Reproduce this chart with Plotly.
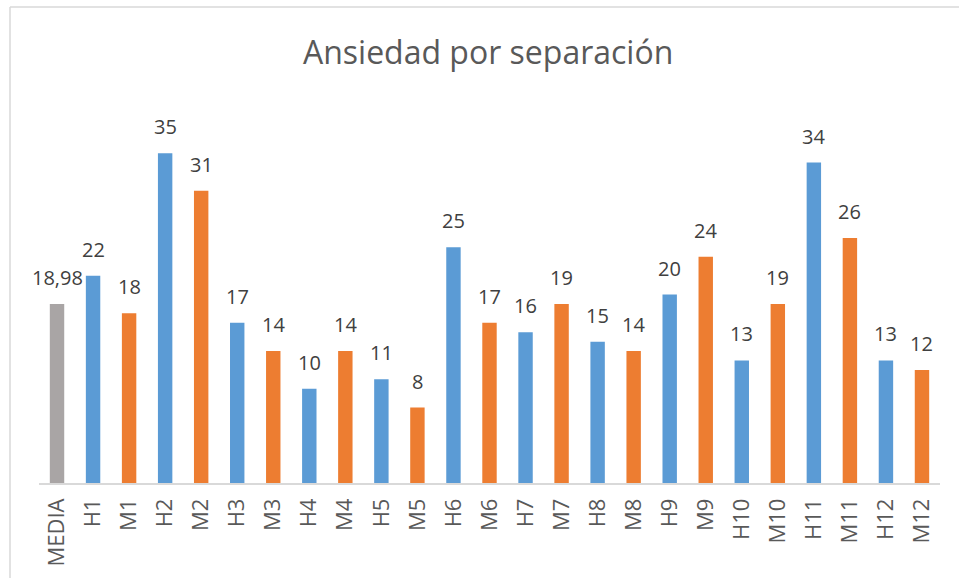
import plotly.graph_objects as go

categories = ["MEDIA", "H1", "M1", "H2", "M2", "H3", "M3", "H4", "M4", "H5", "M5",
              "H6", "M6", "H7", "M7", "H8", "M8", "H9", "M9", "H10", "M10",
              "H11", "M11", "H12", "M12"]
values = [18.98, 22, 18, 35, 31, 17, 14, 10, 14, 11, 8,
          25, 17, 16, 19, 15, 14, 20, 24, 13, 19, 34, 26, 13, 12]
labels = ["18,98"] + [str(v) for v in values[1:]]

GRAY = "#A9A5A5"
BLUE = "#5B9BD5"
ORANGE = "#ED7D31"
colors = [GRAY] + [BLUE if c.startswith("H") else ORANGE for c in categories[1:]]

W, H = 959, 578
ml, mr, mt, mb = 39, 19, 106, 95

fig = go.Figure(go.Bar(
    x=categories, y=values, marker_color=colors, marker_line_width=0,
    hoverinfo="x+y",
))

for c, v, t in zip(categories, values, labels):
    fig.add_annotation(x=c, y=v, text=t, showarrow=False, yanchor="bottom",
                       yshift=11, font=dict(family="Open Sans", size=20, color="#404040"))

pw = W - ml - mr
ph = H - mt - mb
fig.update_layout(
    width=W, height=H,
    margin=dict(l=ml, r=mr, t=mt, b=mb, autoexpand=False),
    paper_bgcolor="white", plot_bgcolor="white",
    bargap=0.6,
    showlegend=False,
    title=dict(text="Ansiedad por separación", x=0.509, xref="container",
               y=1 - 53 / H, yref="container", xanchor="center", yanchor="middle",
               font=dict(family="Open Sans", size=32, color="#595959")),
    xaxis=dict(showline=True, linecolor="#D9D9D9", linewidth=1.5, ticks="",
               tickangle=-90, ticklabelstandoff=5, automargin=False,
               range=[-0.5, len(categories) - 0.5], autorange=False,
               tickfont=dict(family="Open Sans", size=22, color="#595959"),
               showgrid=False),
    yaxis=dict(range=[0, 40], visible=False, showgrid=False, zeroline=False,
               automargin=False),
    shapes=[
        dict(type="line", xref="paper", yref="paper",
             x0=(10 - ml) / pw, x1=(W + 5 - ml) / pw,
             y0=(H - mb - 7) / ph, y1=(H - mb - 7) / ph,
             line=dict(color="#D9D9D9", width=1.5)),
        dict(type="line", xref="paper", yref="paper",
             x0=(10 - ml) / pw, x1=(10 - ml) / pw,
             y0=(H - mb - 7) / ph, y1=-(H - (H - mb) + 5) / ph,
             line=dict(color="#D9D9D9", width=1.5)),
    ],
)

fig.write_html("out.html", config={"displayModeBar": False},
               post_script="document.body.style.margin='0';")
